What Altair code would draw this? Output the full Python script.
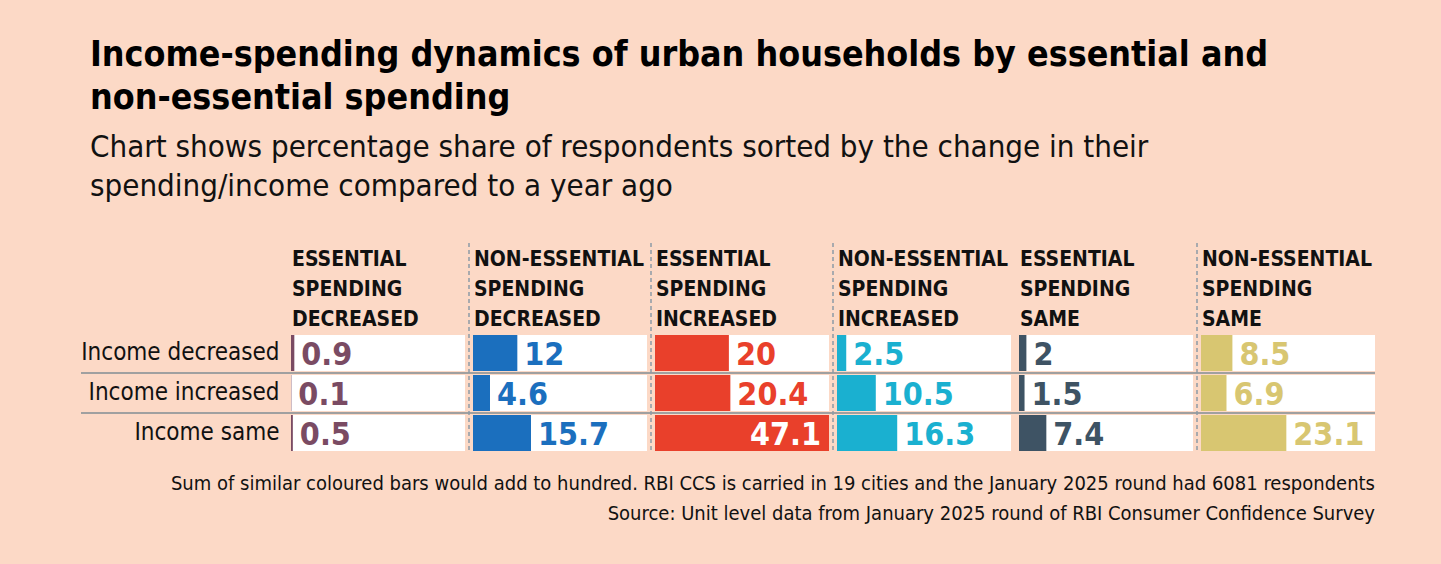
import altair as alt
import pandas as pd

# Survey shares (% of respondents), RBI Consumer Confidence Survey, January 2025 round
rows = ["Income decreased", "Income increased", "Income same"]

panel_titles = [
    ["ESSENTIAL", "SPENDING", "DECREASED"],
    ["NON-ESSENTIAL", "SPENDING", "DECREASED"],
    ["ESSENTIAL", "SPENDING", "INCREASED"],
    ["NON-ESSENTIAL", "SPENDING", "INCREASED"],
    ["ESSENTIAL", "SPENDING", "SAME"],
    ["NON-ESSENTIAL", "SPENDING", "SAME"],
]

ess_decreased = [0.9, 0.1, 0.5]
non_ess_decreased = [12, 4.6, 15.7]
ess_increased = [20, 20.4, 47.1]
non_ess_increased = [2.5, 10.5, 16.3]
ess_same = [2, 1.5, 7.4]
non_ess_same = [8.5, 6.9, 23.1]

series = [ess_decreased, non_ess_decreased, ess_increased,
          non_ess_increased, ess_same, non_ess_same]

colors = ["#7A4B63", "#1B6FBE", "#E9402B", "#1AB0D0", "#3E5364", "#D8C671"]

# panels with a dashed divider on their left edge
dashed_left = [False, True, True, True, False, True]

footnotes = [
    "Sum of similar coloured bars would add to hundred. RBI CCS is carried in 19 cities "
    "and the January 2025 round had 6081 respondents",
    "Source: Unit level data from January 2025 round of RBI Consumer Confidence Survey",
]

title_lines = [
    "Income-spending dynamics of urban households by essential and",
    "non-essential spending",
]
subtitle_lines = [
    "Chart shows percentage share of respondents sorted by the change in their",
    "spending/income compared to a year ago",
]

FONT = "'DejaVu Sans Condensed', 'Liberation Sans Narrow', Roboto, sans-serif"
BG = "#FCD9C6"
INK = "#111111"
W, H = 174, 116
XMAX = max(max(s) for s in series)

x_scale = alt.Scale(domain=[0, XMAX], nice=False, zero=True)
y_scale = alt.Scale(domain=rows, paddingInner=0.1, paddingOuter=0)
one = pd.DataFrame({"k": [0]})

panels = []
for i, (vals, color, head) in enumerate(zip(series, colors, panel_titles)):
    df = pd.DataFrame({
        "row": rows,
        "value": vals,
        "zero": [0] * len(rows),
        "full": [XMAX] * len(rows),
        "inside": [v / XMAX > 0.8 for v in vals],
    })
    base = alt.Chart(df)

    if i == 0:
        y_axis = alt.Axis(title=None, domain=False, ticks=False, grid=False,
                          labelFont=FONT, labelFontSize=24, labelColor=INK,
                          labelPadding=12, labelLimit=400)
    else:
        y_axis = None
    y_enc = alt.Y("row:N", scale=y_scale, axis=y_axis, sort=rows)

    band = base.mark_bar(color="white").encode(
        x=alt.X("zero:Q", scale=x_scale, axis=None),
        x2="full:Q",
        y=y_enc,
    )
    bars = base.mark_bar(color=color).encode(
        x=alt.X("value:Q", scale=x_scale, axis=None),
        y=y_enc,
    )
    text_out = base.transform_filter("!datum.inside").mark_text(
        align="left", baseline="alphabetic", dx=7, dy=12,
        font=FONT, fontSize=32, fontWeight="bold", color=color,
    ).encode(
        x=alt.X("value:Q", scale=x_scale, axis=None),
        y=y_enc,
        text=alt.Text("value:Q", format="~g"),
    )
    text_in = base.transform_filter("datum.inside").mark_text(
        align="right", baseline="alphabetic", dx=-8, dy=12,
        font=FONT, fontSize=32, fontWeight="bold", color="white",
    ).encode(
        x=alt.X("value:Q", scale=x_scale, axis=None),
        y=y_enc,
        text=alt.Text("value:Q", format="~g"),
    )

    # thin grey separators between the income rows
    sep = alt.Chart(pd.DataFrame({"row": rows[1:]})).mark_rule(
        color="#A0A0A0", strokeWidth=2, yOffset=-2,
    ).encode(
        y=alt.Y("row:N", scale=y_scale, axis=y_axis, sort=rows, bandPosition=0),
        x=alt.value(-210 if i == 0 else -8),
        x2=alt.value(W),
    )

    layers = [band, sep, bars, text_out, text_in]

    # three-line column header above each panel
    for j, word in enumerate(head):
        layers.append(
            alt.Chart(one).mark_text(
                align="left", baseline="alphabetic", font=FONT, fontSize=21,
                fontWeight="bold", color=INK,
            ).encode(x=alt.value(1), y=alt.value(-69 + 30 * j), text=alt.value(word))
        )

    if dashed_left[i]:
        layers.append(
            alt.Chart(one).mark_rule(
                color="#8C9AA6", strokeWidth=1.5, strokeDash=[4, 3],
            ).encode(x=alt.value(-4), y=alt.value(-92), y2=alt.value(H + 1))
        )

    if i == len(series) - 1:
        for j, note in enumerate(footnotes):
            layers.append(
                alt.Chart(one).mark_text(
                    align="right", baseline="alphabetic", font=FONT, fontSize=20,
                    color=INK,
                ).encode(
                    x=alt.value(W),
                    y=alt.value(H + 39 + 30 * j),
                    text=alt.value(note),
                )
            )

    panels.append(alt.layer(*layers).properties(width=W, height=H))

chart = alt.hconcat(*panels, spacing=8, bounds="flush").properties(
    title=alt.TitleParams(
        text=title_lines, subtitle=subtitle_lines, anchor="start",
        font=FONT, fontSize=35.5, fontWeight="bold", color="#000000", lineHeight=43,
        subtitleFont=FONT, subtitleFontSize=31, subtitleColor=INK,
        subtitleLineHeight=39, subtitlePadding=17, offset=40, dx=10,
    ),
    background=BG,
    padding={"left": 80, "top": 37, "right": 65, "bottom": 40},
).configure_view(stroke=None)

chart.save("out.html", embed_options={"renderer": "svg", "actions": False})
